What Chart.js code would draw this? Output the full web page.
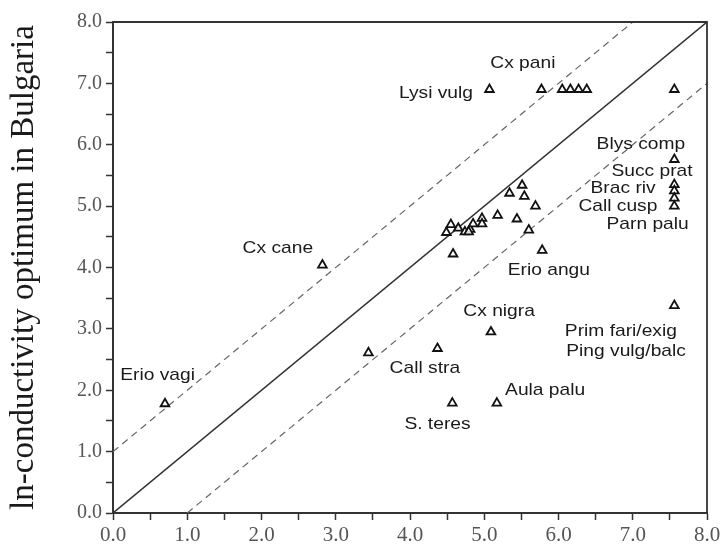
<!DOCTYPE html>
<html>
<head>
<meta charset="utf-8">
<script src="https://cdn.jsdelivr.net/npm/chart.js@4.4.1/dist/chart.umd.min.js"></script>
<style>
  html, body { margin: 0; padding: 0; background: #fff; }
  #wrap { width: 726px; height: 555px; }
</style>
</head>
<body>
<div id="wrap"><canvas id="c" width="726" height="555"></canvas></div>
<script>
// ---- Data ----
const speciesX = [5.07, 5.77, 6.05, 6.16, 6.27, 6.38, 7.56,
                  7.56, 7.56, 7.56, 7.56, 7.56, 7.56,
                  5.34, 5.51, 5.54, 5.69, 5.18, 5.44, 5.60, 4.58, 5.78,
                  4.49, 4.55, 4.65, 4.74, 4.81, 4.85, 4.97, 4.97, 4.79,
                  2.82, 3.44, 4.37, 4.57, 5.17, 5.09, 0.70];
const speciesY = [6.90, 6.90, 6.90, 6.90, 6.90, 6.90, 6.90,
                  5.76, 5.35, 5.25, 5.13, 5.00, 3.38,
                  5.21, 5.34, 5.16, 5.00, 4.85, 4.79, 4.61, 4.22, 4.28,
                  4.57, 4.70, 4.64, 4.58, 4.62, 4.71, 4.80, 4.71, 4.58,
                  4.04, 2.61, 2.68, 1.79, 1.79, 2.95, 1.78];

// reference lines: 1:1 line and +/-1 unit lines (end points)
const oneToOneX = [0, 8];
const oneToOneY = [0, 8];
const upperX = [0, 7];
const upperY = [1, 8];
const lowerX = [1, 8];
const lowerY = [0, 7];

// species labels (anchored at data coordinates)
const labelTexts = ["Cx pani", "Lysi vulg", "Blys comp", "Succ prat", "Brac riv", "Call cusp",
                    "Parn palu", "Cx cane", "Erio angu", "Cx nigra", "Prim fari/exig",
                    "Ping vulg/balc", "Erio vagi", "Call stra", "S. teres", "Aula palu"];
const labelX = [5.52, 4.35, 7.11, 7.26, 6.87, 6.80, 7.20, 2.22, 5.87, 5.20, 6.84, 6.91, 0.60, 4.20, 4.37, 5.82];
const labelY = [7.33, 6.83, 6.01, 5.57, 5.29, 5.00, 4.71, 4.31, 3.96, 3.29, 2.96, 2.64, 2.24, 2.36, 1.44, 2.00];

const axisMin = 0, axisMax = 8, tickStep = 0.5;
const yTitle = "ln-conductivity optimum in Bulgaria";

const toPts = (xs, ys) => xs.map((x, i) => ({x: x, y: ys[i]}));

const labelPlugin = {
  id: 'speciesLabels',
  afterDatasetsDraw(chart) {
    const {ctx, scales: {x, y}} = chart;
    ctx.save();
    ctx.font = '17px "Liberation Sans", Arial, sans-serif';
    ctx.fillStyle = '#1a1a1a';
    ctx.textAlign = 'center';
    ctx.textBaseline = 'middle';
    labelTexts.forEach((t, i) => {
      const px = x.getPixelForValue(labelX[i]);
      const py = y.getPixelForValue(labelY[i]);
      ctx.save();
      ctx.translate(px, py);
      ctx.scale(1.13, 1);
      ctx.fillText(t, 0, 0);
      ctx.restore();
    });
    ctx.restore();
  }
};

const framePlugin = {
  id: 'frame',
  afterDraw(chart) {
    const {ctx, chartArea: a} = chart;
    ctx.save();
    ctx.strokeStyle = '#333';
    ctx.lineWidth = 1.8;
    ctx.beginPath();
    ctx.moveTo(a.left, a.top);
    ctx.lineTo(a.right, a.top);
    ctx.lineTo(a.right, a.bottom);
    ctx.stroke();
    ctx.restore();
  }
};

const tickCb = v => (Math.abs(v - Math.round(v)) < 1e-6 ? Number(v).toFixed(1) : '');

new Chart(document.getElementById('c'), {
  data: {
    datasets: [
      {
        type: 'scatter',
        data: toPts(speciesX, speciesY),
        pointStyle: 'triangle',
        pointRadius: 5,
        pointHoverRadius: 5,
        pointBorderWidth: 1.8,
        pointBorderColor: '#111',
        pointBackgroundColor: 'rgba(255,255,255,0.85)',
        order: 0
      },
      {
        type: 'line',
        data: toPts(oneToOneX, oneToOneY),
        borderColor: '#333',
        borderWidth: 1.5,
        pointRadius: 0,
        fill: false,
        order: 1
      },
      {
        type: 'line',
        data: toPts(upperX, upperY),
        borderColor: '#666',
        borderWidth: 1.2,
        borderDash: [7, 5],
        pointRadius: 0,
        fill: false,
        order: 1
      },
      {
        type: 'line',
        data: toPts(lowerX, lowerY),
        borderColor: '#666',
        borderWidth: 1.2,
        borderDash: [7, 5],
        pointRadius: 0,
        fill: false,
        order: 1
      }
    ]
  },
  options: {
    responsive: false,
    animation: false,
    devicePixelRatio: 1,
    layout: { padding: { top: 22, right: 19, bottom: 0, left: 0 } },
    plugins: { legend: { display: false }, tooltip: { enabled: false }, title: { display: false } },
    scales: {
      x: {
        type: 'linear',
        min: axisMin, max: axisMax,
        afterFit: s => { s.height = 42; },
        border: { display: true, color: '#333', width: 2 },
        grid: { drawOnChartArea: false, drawTicks: true, tickLength: 7, color: '#333', tickWidth: 1.5 },
        ticks: {
          stepSize: tickStep, autoSkip: false, maxRotation: 0, padding: 3,
          color: '#555',
          font: { family: '"Liberation Serif", "Times New Roman", serif', size: 21 },
          callback: tickCb
        }
      },
      y: {
        type: 'linear',
        min: axisMin, max: axisMax,
        afterFit: s => { s.width = 113; },
        border: { display: true, color: '#333', width: 2 },
        grid: { drawOnChartArea: false, drawTicks: true, tickLength: 7, color: '#333', tickWidth: 1.5 },
        ticks: {
          stepSize: tickStep, autoSkip: false, padding: 4,
          color: '#555',
          font: { family: '"Liberation Serif", "Times New Roman", serif', size: 20 },
          callback: tickCb
        },
        title: {
          display: true,
          text: yTitle,
          color: '#1a1a1a',
          font: { family: '"Liberation Serif", "Times New Roman", serif', size: 33, lineHeight: 1.1 },
          padding: { top: 6, bottom: 0 }
        }
      }
    }
  },
  plugins: [labelPlugin, framePlugin]
});
</script>
</body>
</html>
